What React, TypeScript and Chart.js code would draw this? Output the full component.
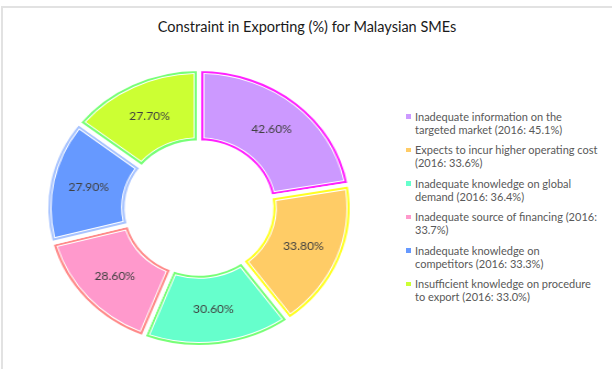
import React, { useEffect, useRef } from 'react';
import { Chart, registerables } from 'chart.js';
Chart.register(...registerables);

const title = 'Constraint in Exporting (%) for Malaysian SMEs';
const categories = [
  'Inadequate information on the\ntargeted market (2016: 45.1%)',
  'Expects to incur higher operating cost\n(2016: 33.6%)',
  'Inadequate knowledge on global\ndemand (2016: 36.4%)',
  'Inadequate source of financing (2016:\n33.7%)',
  'Inadequate knowledge on\ncompetitors (2016: 33.3%)',
  'Insufficient knowledge on procedure\nto export (2016: 33.0%)',
];
const values = [42.6, 33.8, 30.6, 28.6, 27.9, 27.7];
const fillColors = ['#CC99FF', '#FFCC66', '#66FFCC', '#FF99CC', '#6699FF', '#CCFF33'];
const edgeColors = ['#FF22FF', '#FFFF22', '#77FF77', '#FF8A8A', '#A8C4FF', '#77FF77'];

function insetPath(ctx: CanvasRenderingContext2D, x: number, y: number, a0: number, a1: number, ri: number, ro: number, d: number) {
  const R = ro - d;
  const r = ri + d;
  const oa = Math.asin(Math.min(1, d / R));
  const ia = Math.asin(Math.min(1, d / r));
  ctx.beginPath();
  ctx.arc(x, y, R, a0 + oa, a1 - oa);
  ctx.arc(x, y, r, a1 - ia, a0 + ia, true);
  ctx.closePath();
}

const ringPlugin = {
  id: 'ringPlugin',
  afterDatasetsDraw(chart: any) {
    const ctx: CanvasRenderingContext2D = chart.ctx;
    const arcs = chart.getDatasetMeta(0).data;
    ctx.save();
    arcs.forEach((arc: any, i: number) => {
      const p = arc.getProps(['x', 'y', 'startAngle', 'endAngle', 'innerRadius', 'outerRadius'], true);
      insetPath(ctx, p.x, p.y, p.startAngle, p.endAngle, p.innerRadius, p.outerRadius, 4);
      ctx.fillStyle = '#ffffff';
      ctx.fill();
      insetPath(ctx, p.x, p.y, p.startAngle, p.endAngle, p.innerRadius, p.outerRadius, 5);
      ctx.fillStyle = fillColors[i];
      ctx.fill();
    });
    ctx.font = '11px Lato, "DejaVu Sans", sans-serif';
    ctx.fillStyle = '#404040';
    ctx.textAlign = 'center';
    ctx.textBaseline = 'middle';
    arcs.forEach((arc: any, i: number) => {
      const pos = arc.tooltipPosition(true);
      ctx.fillText(values[i].toFixed(2) + '%', pos.x, pos.y);
    });
    ctx.restore();
  },
};

export default function App() {
  const ref = useRef<HTMLCanvasElement>(null);
  useEffect(() => {
    const chart = new Chart(ref.current as HTMLCanvasElement, {
      type: 'doughnut',
      data: {
        labels: categories,
        datasets: [
          {
            data: values,
            backgroundColor: edgeColors,
            borderColor: '#ffffff',
            borderWidth: 4,
            borderAlign: 'center',
            hoverOffset: 0,
          } as any,
        ],
      },
      options: {
        responsive: false,
        animation: false,
        radius: 139,
        cutout: 70,
        events: [],
        layout: { padding: 0 },
        plugins: {
          legend: { display: false },
          tooltip: { enabled: false },
          title: { display: false },
        },
      } as any,
      plugins: [ringPlugin],
    });
    return () => chart.destroy();
  }, []);

  return (
    <div style={{ position: 'fixed', left: 0, top: 0, width: 612, height: 369, background: '#fff', overflow: 'hidden', fontFamily: 'Lato, "Open Sans", sans-serif' }}>
      <div style={{ position: 'absolute', left: 1, top: 6, width: 700, height: 500, borderTop: '2px solid #e2e2e2', borderLeft: '2px solid #e2e2e2' }} />
      <div style={{ position: 'absolute', left: 0, top: 18, width: 614, height: 18, lineHeight: '18px', textAlign: 'center', fontSize: 14.5, color: '#1a1a1a' }}>
        {title}
      </div>
      <div style={{ position: 'absolute', left: 49, top: 58, width: 300, height: 300, transform: 'scaleX(1.1)', transformOrigin: '150px 150px' }}>
        <canvas ref={ref} width={300} height={300} style={{ display: 'block' }} />
      </div>
      <div style={{ position: 'absolute', left: 402, top: 109.5 }}>
        {categories.map((c, i) => (
          <div key={i} style={{ position: 'relative', paddingLeft: 13, fontSize: 11, lineHeight: '13px', height: 26, marginBottom: 7.6, color: '#595959', whiteSpace: 'pre' }}>
            <span style={{ position: 'absolute', left: 4, top: 4.5, width: 4.5, height: 4.5, background: fillColors[i] }} />
            {c}
          </div>
        ))}
      </div>
    </div>
  );
}
